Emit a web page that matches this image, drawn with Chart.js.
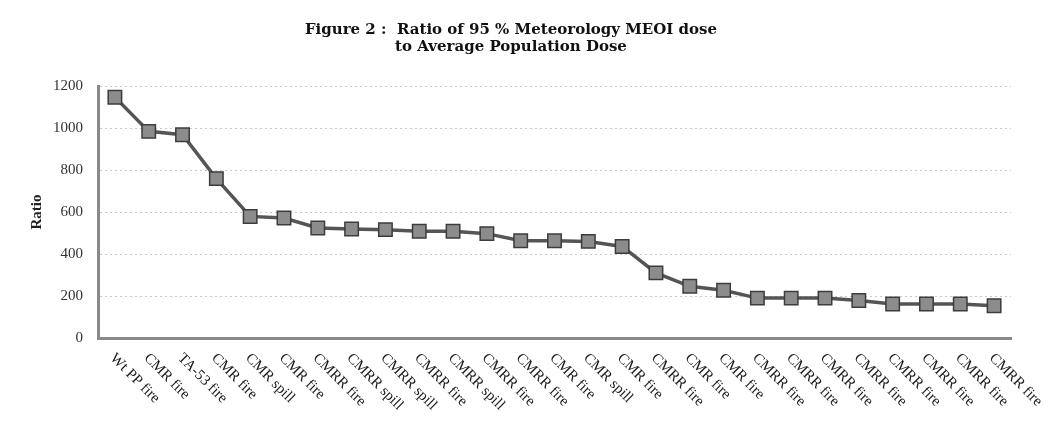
<!DOCTYPE html>
<html><head><meta charset="utf-8">
<script src="https://cdn.jsdelivr.net/npm/chart.js@4.4.0/dist/chart.umd.min.js"></script>
<style>html,body{margin:0;padding:0;background:#fff;}#wrap{width:1048px;height:425px;}</style>
</head><body><div id="wrap"><canvas id="c" width="1048" height="425"></canvas></div>
<script>
const categories = [
  'Wt PP fire','CMR fire','TA-53 fire','CMR fire','CMR spill','CMR fire','CMRR fire',
  'CMRR spill','CMRR spill','CMRR fire','CMRR spill','CMRR fire','CMRR fire','CMR fire',
  'CMR spill','CMR fire','CMRR fire','CMR fire','CMR fire','CMRR fire','CMRR fire',
  'CMRR fire','CMRR fire','CMRR fire','CMRR fire','CMRR fire','CMRR fire'
];
const ratioValues = [
  1146, 984, 968, 759, 579, 571, 524, 519, 516, 508, 508, 497, 463, 463,
  460, 436, 310, 246, 227, 190, 190, 190, 179, 162, 162, 162, 154
];
const yTicks = [0, 200, 400, 600, 800, 1000, 1200];
const titleLines = ['Figure 2 :  Ratio of 95 % Meteorology MEOI dose', 'to Average Population Dose'];
const yAxisTitle = 'Ratio';

const slantedLabels = {
  id: 'slantedLabels',
  afterDraw(chart) {
    const {ctx, chartArea, scales} = chart;
    const x = scales.x;
    ctx.save();
    ctx.font = '15px "Liberation Serif", "Times New Roman", serif';
    ctx.fillStyle = '#1a1a1a';
    ctx.textAlign = 'left';
    ctx.textBaseline = 'middle';
    categories.forEach((lab, i) => {
      const px = x.getPixelForValue(i);
      ctx.save();
      ctx.translate(px - 2.5, chartArea.bottom + 18);
      ctx.rotate(Math.PI / 4);
      ctx.fillText(lab, 0, 0);
      ctx.restore();
    });
    ctx.restore();
  }
};

new Chart(document.getElementById('c'), {
  type: 'line',
  data: {
    labels: categories,
    datasets: [{
      data: ratioValues,
      borderColor: '#555',
      borderWidth: 3.5,
      pointStyle: 'rect',
      pointRadius: 9.5,
      pointBackgroundColor: '#8c8c8c',
      pointBorderColor: '#3c3c3c',
      pointBorderWidth: 1.5,
      tension: 0,
      fill: false
    }]
  },
  options: {
    responsive: false,
    animation: false,
    devicePixelRatio: 1,
    layout: {padding: {left: 11, right: 37, top: 0, bottom: 0}},
    plugins: {
      legend: {display: false},
      tooltip: {enabled: false},
      title: {
        display: true,
        text: titleLines,
        color: '#111',
        font: {family: '"DejaVu Serif", serif', size: 15, weight: 'bold', lineHeight: 1.1},
        padding: {top: 22, bottom: 31}
      }
    },
    scales: {
      x: {
        type: 'category',
        offset: true,
        grid: {display: false, drawTicks: false},
        border: {display: true, color: '#8a8a8a', width: 3},
        ticks: {display: false},
        afterFit(s) { s.height = 87; }
      },
      y: {
        min: 0, max: 1200,
        afterBuildTicks(s) { s.ticks = yTicks.map(v => ({value: v})); },
        grid: {color: '#c8c8c8', lineWidth: 1, drawTicks: false},
        border: {display: true, color: '#8a8a8a', width: 3, dash: [2, 3]},
        ticks: {
          color: '#333', padding: 15,
          font: {family: '"Liberation Serif", "Times New Roman", serif', size: 15},
          callback: (v) => String(v)
        },
        title: {
          display: true, text: yAxisTitle, color: '#222',
          font: {family: '"Liberation Serif", "Times New Roman", serif', size: 15, weight: 'bold'},
          padding: {top: 17, bottom: 0}
        },
        afterFit(s) { s.width = 87; }
      }
    }
  },
  plugins: [slantedLabels]
});
</script>
</body></html>
